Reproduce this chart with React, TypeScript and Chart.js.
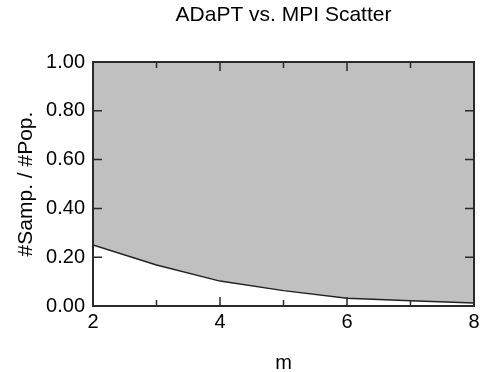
import React, { useEffect, useRef } from "react";
import { Chart, registerables } from "chart.js";

Chart.register(...registerables);

const mValues = [2, 3, 4, 5, 6, 7, 8];
const ratioValues = [0.25, 0.168, 0.102, 0.063, 0.032, 0.022, 0.012];
const xMajorTicks = [2, 4, 6, 8];
const xMinorTicks = [3, 5, 7];
const yMajorTicks = [0, 0.2, 0.4, 0.6, 0.8, 1.0];
const chartTitle = "ADaPT vs. MPI Scatter";

const FONT = "'Liberation Sans', Arial, Helvetica, sans-serif";

const framePlugin = {
  id: "frameTicks",
  afterDatasetsDraw(chart: any) {
    const { ctx, chartArea, scales } = chart;
    const { left, right, top, bottom } = chartArea;
    const xs = scales.x;
    const ys = scales.y;
    ctx.save();
    ctx.strokeStyle = "#2a2a2a";
    ctx.lineWidth = 1.5;
    const major = 9;
    const minor = 6;
    ctx.beginPath();
    for (const v of xMajorTicks) {
      const px = xs.getPixelForValue(v);
      ctx.moveTo(px, bottom);
      ctx.lineTo(px, bottom - major);
      ctx.moveTo(px, top);
      ctx.lineTo(px, top + major);
    }
    for (const v of xMinorTicks) {
      const px = xs.getPixelForValue(v);
      ctx.moveTo(px, bottom);
      ctx.lineTo(px, bottom - minor);
      ctx.moveTo(px, top);
      ctx.lineTo(px, top + minor);
    }
    for (const v of yMajorTicks) {
      const py = ys.getPixelForValue(v);
      ctx.moveTo(left, py);
      ctx.lineTo(left + major, py);
      ctx.moveTo(right, py);
      ctx.lineTo(right - major, py);
    }
    ctx.stroke();
    ctx.lineWidth = 2;
    ctx.strokeRect(left, top, right - left, bottom - top);

    // title centered over the plot area
    ctx.fillStyle = "#000";
    ctx.font = `21px ${FONT}`;
    ctx.textAlign = "center";
    ctx.textBaseline = "middle";
    ctx.fillText(chartTitle, (left + right) / 2, 15);
    ctx.restore();
  },
};

export default function App() {
  const canvasRef = useRef<HTMLCanvasElement | null>(null);

  useEffect(() => {
    document.body.style.margin = "0";
    const canvas = canvasRef.current;
    if (!canvas) return;
    const chart = new Chart(canvas, {
      type: "line",
      data: {
        datasets: [
          {
            data: mValues.map((m, i) => ({ x: m, y: ratioValues[i] })),
            borderColor: "#222222",
            borderWidth: 1.5,
            backgroundColor: "#c0c0c0",
            fill: "end",
            pointRadius: 0,
            tension: 0,
          },
        ],
      },
      options: {
        animation: false,
        responsive: false,
        maintainAspectRatio: false,
        layout: { padding: { left: 0, right: 10, top: 62, bottom: 0 } },
        plugins: {
          legend: { display: false },
          tooltip: { enabled: false },
          title: { display: false },
        },
        scales: {
          x: {
            type: "linear",
            min: 2,
            max: 8,
            afterFit: (s: any) => {
              s.height = 66;
            },
            grid: { display: false, drawTicks: false },
            border: { display: false },
            ticks: {
              stepSize: 2,
              padding: 4,
              color: "#000",
              font: { family: FONT, size: 20 },
              maxRotation: 0,
            },
            title: {
              display: true,
              text: "m",
              color: "#000",
              font: { family: FONT, size: 20 },
              padding: { top: 0, bottom: -3 },
            },
          },
          y: {
            type: "linear",
            min: 0,
            max: 1,
            afterFit: (s: any) => {
              s.width = 93;
            },
            grid: { display: false, drawTicks: false },
            border: { display: false },
            ticks: {
              stepSize: 0.2,
              padding: 8,
              color: "#000",
              font: { family: FONT, size: 20 },
              callback: (v: any) => Number(v).toFixed(2),
            },
            title: {
              display: true,
              text: "#Samp. / #Pop.",
              color: "#000",
              font: { family: FONT, size: 21 },
              padding: { top: 14, bottom: 0 },
            },
          },
        },
      },
      plugins: [framePlugin],
    });
    return () => chart.destroy();
  }, []);

  return (
    <div style={{ width: 484, height: 372 }}>
      <canvas ref={canvasRef} width={484} height={372} style={{ display: "block" }} />
    </div>
  );
}
